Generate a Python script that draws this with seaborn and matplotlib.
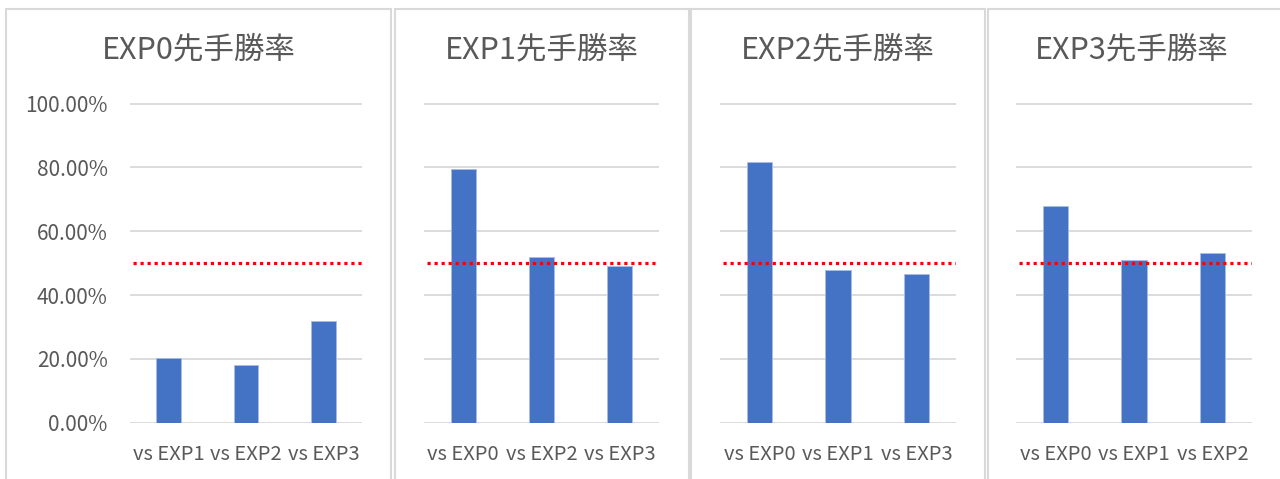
import matplotlib
matplotlib.use("Agg")
import matplotlib.pyplot as plt
import seaborn as sns
import pandas as pd
from matplotlib.patches import Rectangle
from matplotlib.ticker import FixedLocator

# ---- data ----
titles = ["EXP0先手勝率", "EXP1先手勝率", "EXP2先手勝率", "EXP3先手勝率"]
categories = [
    ["vs EXP1", "vs EXP2", "vs EXP3"],
    ["vs EXP0", "vs EXP2", "vs EXP3"],
    ["vs EXP0", "vs EXP1", "vs EXP3"],
    ["vs EXP0", "vs EXP1", "vs EXP2"],
]
win_rates = [
    [0.203, 0.180, 0.320],
    [0.795, 0.518, 0.491],
    [0.818, 0.479, 0.465],
    [0.678, 0.509, 0.533],
]
reference_line = 0.5
y_ticks = [0.0, 0.2, 0.4, 0.6, 0.8, 1.0]
y_tick_labels = ["0.00%", "20.00%", "40.00%", "60.00%", "80.00%", "100.00%"]

# ---- style ----
sns.set_theme(style="white")
plt.rcParams["font.family"] = ["Noto Sans CJK JP", "DejaVu Sans"]

W, H = 1280, 479
fig = plt.figure(figsize=(W / 100, H / 100), dpi=100)
fig.patch.set_facecolor("white")

BAR = "#4472C4"
GRID = "#D9D9D9"
TXT = "#595959"

# panel frames (pixel coords: left, right)
frames = [(6, 391), (395, 689), (691, 985), (988, 1283)]
# plot areas (pixel coords: left, right)
plots = [(130, 362), (424, 659), (720, 956), (1016, 1252)]
y0_px, y100_px = 422.7, 103.7
ppu = (y0_px - y100_px) / 1.0
ytop = 1.01
top_px = y0_px - ytop * ppu

for fl, fr in frames:
    fig.add_artist(Rectangle((fl / W, -0.02), (fr - fl) / W, (H - 9) / H + 0.02,
                             transform=fig.transFigure, fill=False,
                             edgecolor=GRID, lw=1.5))

for i in range(4):
    l, r = plots[i]
    ax = fig.add_axes([l / W, (H - y0_px) / H, (r - l) / W, (y0_px - top_px) / H])
    df = pd.DataFrame({"cat": categories[i], "rate": win_rates[i]})
    sns.barplot(data=df, x="cat", y="rate", color=BAR, width=0.32,
                saturation=1, ax=ax, zorder=2, edgecolor="#A9BDE3", linewidth=0.6)
    ax.set_xlim(-0.5, 2.5)
    ax.set_ylim(0, ytop)
    ax.yaxis.set_major_locator(FixedLocator(y_ticks))
    ax.grid(axis="y", color=GRID, lw=1.3, zorder=0)
    ax.grid(axis="x", visible=False)
    ax.set_axisbelow(True)
    for s in ax.spines.values():
        s.set_visible(False)
    ax.axhline(reference_line, xmin=0.012, xmax=1.0, color="#FF0000", lw=2.3,
               dashes=(1.0, 1.2), zorder=3)
    ax.set_xlabel("")
    ax.set_ylabel("")
    ax.tick_params(axis="x", length=0, pad=15, labelsize=14.5, labelcolor=TXT)
    if i == 0:
        ax.set_yticklabels(y_tick_labels)
        ax.tick_params(axis="y", length=0, pad=16, labelsize=15, labelcolor=TXT)
    else:
        ax.tick_params(axis="y", length=0, labelleft=False)
    cx = ((frames[i][0] + frames[i][1]) / 2) / W
    if i == 3:
        cx = ((988 + 1280) / 2 - 2) / W
    fig.text(cx, 1 - 50 / H, titles[i], ha="center", va="center",
             fontsize=22, color=TXT)

fig.savefig("out.png", dpi=100, facecolor="white")
